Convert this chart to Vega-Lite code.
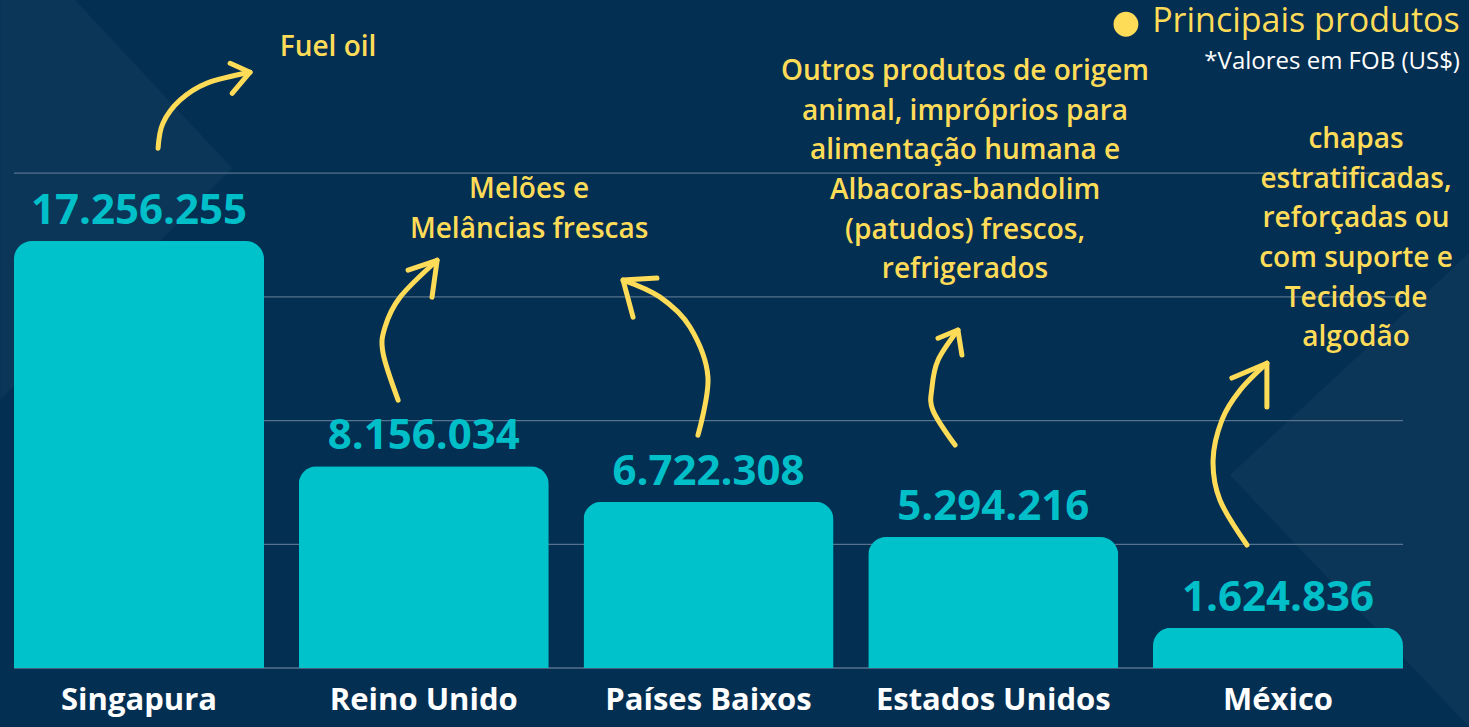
{
  "$schema": "https://vega.github.io/schema/vega-lite/v6.json",
  "width": 1389,
  "height": 668,
  "autosize": {"type": "none"},
  "padding": {"left": 14, "top": 0, "right": 66, "bottom": 59},
  "background": "#032f52",
  "config": {
    "view": {"stroke": null},
    "locale": {"number": {"decimal": ",", "thousands": ".", "grouping": [3], "currency": ["US$", ""]}},
    "axis": {"labelFont": "Open Sans"}
  },
  "datasets": {
    "bars": [
      {"pais": "Singapura", "valor": 17256255},
      {"pais": "Reino Unido", "valor": 8156034},
      {"pais": "Países Baixos", "valor": 6722308},
      {"pais": "Estados Unidos", "valor": 5294216},
      {"pais": "México", "valor": 1624836}
    ],
    "grid": [
      {"g": 0}, {"g": 5000000}, {"g": 10000000}, {"g": 15000000}, {"g": 20000000}
    ],
    "shapes": [
      {"s": "left", "xq": -0.488, "top": 27000000, "bot": 10830000},
      {"s": "left", "xq": -0.225, "top": 27000000, "bot": 13820000},
      {"s": "left", "xq": 0.327, "top": 20200000, "bot": 20200000},
      {"s": "right", "xq": 3.831, "top": 7800000, "bot": 7800000},
      {"s": "right", "xq": 4.671, "top": 16770000, "bot": -2380000}
    ],
    "shafts": [
      {"a": "a1", "o": 1, "xq": 0.067, "v": 21010000},
      {"a": "a1", "o": 2, "xq": 0.084, "v": 22020000},
      {"a": "a1", "o": 3, "xq": 0.144, "v": 22950000},
      {"a": "a1", "o": 4, "xq": 0.239, "v": 23640000},
      {"a": "a1", "o": 5, "xq": 0.39, "v": 24080000},
      {"a": "a2", "o": 1, "xq": 0.91, "v": 10830000},
      {"a": "a2", "o": 2, "xq": 0.857, "v": 12730000},
      {"a": "a2", "o": 3, "xq": 0.864, "v": 13780000},
      {"a": "a2", "o": 4, "xq": 0.917, "v": 14990000},
      {"a": "a2", "o": 5, "xq": 1.047, "v": 16480000},
      {"a": "a3", "o": 1, "xq": 1.963, "v": 9410000},
      {"a": "a3", "o": 2, "xq": 1.998, "v": 11760000},
      {"a": "a3", "o": 3, "xq": 1.935, "v": 13780000},
      {"a": "a3", "o": 4, "xq": 1.83, "v": 14990000},
      {"a": "a3", "o": 5, "xq": 1.7, "v": 15680000},
      {"a": "a4", "o": 1, "xq": 2.866, "v": 9010000},
      {"a": "a4", "o": 2, "xq": 2.788, "v": 10420000},
      {"a": "a4", "o": 3, "xq": 2.785, "v": 11350000},
      {"a": "a4", "o": 4, "xq": 2.806, "v": 12440000},
      {"a": "a4", "o": 5, "xq": 2.876, "v": 13660000},
      {"a": "a5", "o": 1, "xq": 3.891, "v": 4970000},
      {"a": "a5", "o": 2, "xq": 3.796, "v": 6790000},
      {"a": "a5", "o": 3, "xq": 3.772, "v": 8400000},
      {"a": "a5", "o": 4, "xq": 3.803, "v": 10020000},
      {"a": "a5", "o": 5, "xq": 3.867, "v": 11230000},
      {"a": "a5", "o": 6, "xq": 3.961, "v": 12320000}
    ],
    "heads": [
      {"a": "a1", "o": 1, "xq": 0.32, "v": 24440000},
      {"a": "a1", "o": 2, "xq": 0.39, "v": 24080000},
      {"a": "a1", "o": 3, "xq": 0.327, "v": 23230000},
      {"a": "a2", "o": 1, "xq": 0.945, "v": 16080000},
      {"a": "a2", "o": 2, "xq": 1.047, "v": 16480000},
      {"a": "a2", "o": 3, "xq": 1.029, "v": 14990000},
      {"a": "a3", "o": 1, "xq": 1.819, "v": 15760000},
      {"a": "a3", "o": 2, "xq": 1.7, "v": 15680000},
      {"a": "a3", "o": 3, "xq": 1.735, "v": 14180000},
      {"a": "a4", "o": 1, "xq": 2.806, "v": 13330000},
      {"a": "a4", "o": 2, "xq": 2.876, "v": 13660000},
      {"a": "a4", "o": 3, "xq": 2.89, "v": 12650000},
      {"a": "a5", "o": 1, "xq": 3.838, "v": 11720000},
      {"a": "a5", "o": 2, "xq": 3.961, "v": 12320000},
      {"a": "a5", "o": 3, "xq": 3.961, "v": 10550000}
    ],
    "notes": [
      {"t": "Fuel oil", "xq": 0.664, "v": 25050000},
      {"t": "Melões e\nMelâncias frescas", "xq": 1.37, "v": 19310000},
      {"t": "Outros produtos de origem\nanimal, impróprios para\nalimentação humana e\nAlbacoras-bandolim\n(patudos) frescos,\nrefrigerados", "xq": 2.901, "v": 24080000},
      {"t": "chapas\nestratificadas,\nreforçadas ou\ncom suporte e\nTecidos de\nalgodão", "xq": 4.274, "v": 21330000}
    ],
    "legend": [
      {"t": "Principais produtos", "xq": 3.558, "v": 26100000, "cx": 3.466, "cv": 26020000}
    ],
    "sub": [
      {"t": "*Valores em FOB (US$)", "xq": 4.639, "v": 24480000}
    ]
  },
  "layer": [
    {
      "data": {"name": "shapes"},
      "mark": {"type": "area", "orient": "vertical", "color": "#0b3658", "opacity": 1},
      "encoding": {
        "x": {"field": "xq", "type": "quantitative", "scale": {"domain": [-0.439, 4.439], "nice": false, "zero": false}, "axis": null},
        "y": {"field": "top", "type": "quantitative", "scale": {"domain": [0, 27000000], "nice": false}, "axis": null},
        "y2": {"field": "bot"},
        "detail": {"field": "s"}
      }
    },
    {
      "layer": [
        {
          "data": {"name": "grid"},
          "mark": {"type": "rule", "color": "#56728d", "strokeWidth": 1.3},
          "encoding": {
            "y": {"field": "g", "type": "quantitative", "scale": {"domain": [0, 27000000], "nice": false}, "axis": null}
          }
        },
        {
          "data": {"name": "bars"},
          "mark": {"type": "bar", "color": "#00c2cb", "cornerRadiusTopLeft": 18, "cornerRadiusTopRight": 18},
          "encoding": {
            "x": {
              "field": "pais", "type": "nominal", "sort": null,
              "scale": {"paddingInner": 0.122, "paddingOuter": 0},
              "axis": {"title": null, "ticks": false, "domain": false, "labelAngle": 0, "labelFontSize": 31, "labelFontWeight": 700, "labelColor": "#ffffff", "labelPadding": 17, "labelLimit": 0}
            },
            "y": {
              "field": "valor", "type": "quantitative",
              "scale": {"domain": [0, 27000000], "nice": false, "zero": true},
              "axis": null
            }
          }
        },
        {
          "data": {"name": "bars"},
          "mark": {"type": "text", "font": "Open Sans", "fontWeight": 700, "fontSize": 42, "color": "#00bfc9", "baseline": "middle", "dy": -30},
          "encoding": {
            "x": {"field": "pais", "type": "nominal", "sort": null},
            "y": {"field": "valor", "type": "quantitative", "scale": {"domain": [0, 27000000], "nice": false}},
            "text": {"field": "valor", "type": "quantitative", "format": ",d"}
          }
        }
      ]
    },
    {
      "data": {"name": "shafts"},
      "mark": {"type": "line", "color": "#ffdc58", "strokeWidth": 5, "strokeCap": "round", "interpolate": "cardinal"},
      "encoding": {
        "x": {"field": "xq", "type": "quantitative", "scale": {"domain": [-0.439, 4.439], "nice": false, "zero": false}, "axis": null},
        "y": {"field": "v", "type": "quantitative", "scale": {"domain": [0, 27000000], "nice": false}},
        "detail": {"field": "a"},
        "order": {"field": "o"}
      }
    },
    {
      "data": {"name": "heads"},
      "mark": {"type": "line", "color": "#ffdc58", "strokeWidth": 5, "strokeCap": "round", "strokeJoin": "round"},
      "encoding": {
        "x": {"field": "xq", "type": "quantitative", "scale": {"domain": [-0.439, 4.439], "nice": false, "zero": false}, "axis": null},
        "y": {"field": "v", "type": "quantitative", "scale": {"domain": [0, 27000000], "nice": false}},
        "detail": {"field": "a"},
        "order": {"field": "o"}
      }
    },
    {
      "data": {"name": "notes"},
      "mark": {"type": "text", "font": "Open Sans", "fontWeight": 600, "fontSize": 28, "color": "#ffdc58", "align": "center", "baseline": "middle", "lineBreak": "\n", "lineHeight": 39.6},
      "encoding": {
        "x": {"field": "xq", "type": "quantitative", "scale": {"domain": [-0.439, 4.439], "nice": false, "zero": false}, "axis": null},
        "y": {"field": "v", "type": "quantitative", "scale": {"domain": [0, 27000000], "nice": false}},
        "text": {"field": "t"}
      }
    },
    {
      "data": {"name": "legend"},
      "mark": {"type": "point", "filled": true, "color": "#ffdc58", "opacity": 1, "size": 615},
      "encoding": {
        "x": {"field": "cx", "type": "quantitative", "scale": {"domain": [-0.439, 4.439], "nice": false, "zero": false}, "axis": null},
        "y": {"field": "cv", "type": "quantitative", "scale": {"domain": [0, 27000000], "nice": false}}
      }
    },
    {
      "data": {"name": "legend"},
      "mark": {"type": "text", "font": "Open Sans", "fontWeight": 400, "fontSize": 34, "color": "#ffdc58", "align": "left", "baseline": "middle"},
      "encoding": {
        "x": {"field": "xq", "type": "quantitative", "scale": {"domain": [-0.439, 4.439], "nice": false, "zero": false}, "axis": null},
        "y": {"field": "v", "type": "quantitative", "scale": {"domain": [0, 27000000], "nice": false}},
        "text": {"field": "t"}
      }
    },
    {
      "data": {"name": "sub"},
      "mark": {"type": "text", "font": "Open Sans", "fontWeight": 400, "fontSize": 24, "color": "#ffffff", "align": "right", "baseline": "middle"},
      "encoding": {
        "x": {"field": "xq", "type": "quantitative", "scale": {"domain": [-0.439, 4.439], "nice": false, "zero": false}, "axis": null},
        "y": {"field": "v", "type": "quantitative", "scale": {"domain": [0, 27000000], "nice": false}},
        "text": {"field": "t"}
      }
    }
  ],
  "resolve": {"scale": {"x": "independent"}}
}
